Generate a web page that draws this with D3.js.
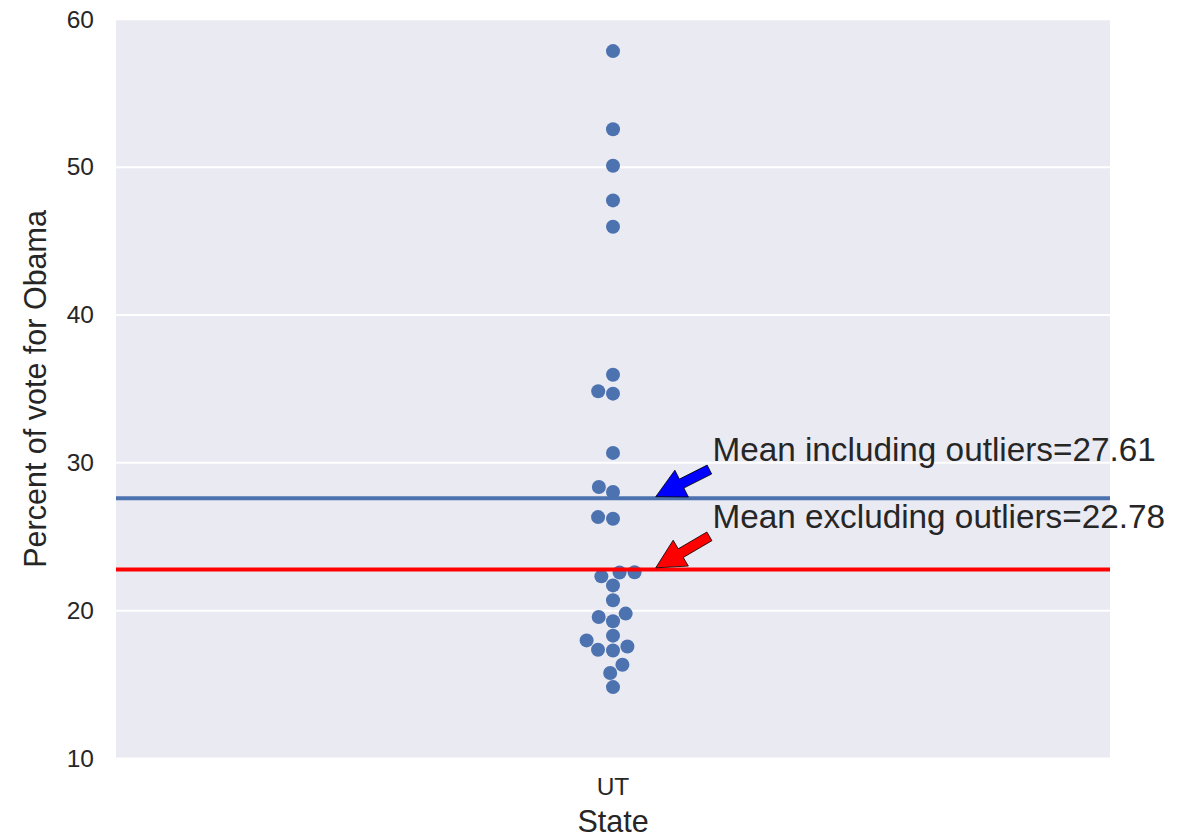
<!DOCTYPE html>
<html>
<head>
<meta charset="utf-8">
<script src="https://cdn.jsdelivr.net/npm/d3@7"></script>
<style>
  body { margin: 0; background: #ffffff; }
  svg { display: block; }
  text { font-family: "Liberation Sans", Arial, sans-serif; fill: #262626; }
</style>
</head>
<body>
<svg id="chart" width="1183" height="838"></svg>
<script>
// ---- data ----
const categories = ["UT"];
// Obama vote share (%) by county
const obamaShare = [
  57.85, 52.56, 50.09, 47.75, 45.97,
  35.96, 34.84, 34.68, 30.67, 28.36, 28.03, 26.33, 26.22,
  22.6, 22.58, 22.32, 21.71, 20.70, 19.80, 19.57, 19.28,
  18.31, 17.99, 17.58, 17.36, 17.31, 16.34, 15.78, 14.83
];
const yTicks = [10, 20, 30, 40, 50, 60];
const meanValues = [27.61, 22.78];
const meanLabels = ["Mean including outliers=27.61", "Mean excluding outliers=22.78"];
const meanLineColors = ["#4C72B0", "#FF0000"];
const arrowColors = ["#0000FF", "#FF0000"];
// annotation text anchors (data units: category offset, percent)
const labelAnchorX = [0.1, 0.1];
const labelAnchorY = [30.12, 25.62];
// annotated point on each mean line (category offset)
const arrowTargetX = [0.04, 0.04];

// ---- layout ----
const svg = d3.select("#chart");
const plot = { left: 116, right: 1110, top: 19.3, bottom: 758.5 };

const xBand = d3.scaleBand().domain(categories).range([plot.left, plot.right]);
const xLin = d3.scaleLinear().domain([-0.5, categories.length - 0.5]).range([plot.left, plot.right]);
const y = d3.scaleLinear().domain([10, 60]).range([plot.bottom, plot.top]);

// background
svg.append("rect")
  .attr("x", plot.left).attr("y", plot.top)
  .attr("width", plot.right - plot.left).attr("height", plot.bottom - plot.top)
  .attr("fill", "#EAEAF2");

// horizontal grid
svg.append("g").selectAll("line").data(yTicks).join("line")
  .attr("x1", plot.left).attr("x2", plot.right)
  .attr("y1", d => y(d)).attr("y2", d => y(d))
  .attr("stroke", "#ffffff").attr("stroke-width", 2);

// ---- swarm layout (seaborn-style beeswarm, pixel space) ----
function beeswarm(values, d) {
  const pts = values.map(v => ({ v, u: -y(v) })).sort((a, b) => a.u - b.u);
  const swarm = [];
  pts.forEach((p, i) => {
    if (i === 0) { swarm.push({ v: p.v, u: p.u, dx: 0 }); return; }
    const neighbors = [];
    for (let j = swarm.length - 1; j >= 0; j--) {
      if (p.u - swarm[j].u < d) neighbors.unshift(swarm[j]); else break;
    }
    const cands = [0];
    let leftFirst = true;
    neighbors.forEach(n => {
      const dy = p.u - n.u;
      const dx = Math.sqrt(Math.max(d * d - dy * dy, 0)) * 1.05;
      if (leftFirst) cands.push(n.dx - dx, n.dx + dx);
      else cands.push(n.dx + dx, n.dx - dx);
      leftFirst = !leftFirst;
    });
    const order = cands.map((c, k) => ({ c, k }))
      .sort((a, b) => (Math.abs(a.c) - Math.abs(b.c)) || (a.k - b.k));
    let chosen = order[0].c;
    if (neighbors.length) {
      for (const o of order) {
        if (neighbors.every(n => (n.dx - o.c) ** 2 + (n.u - p.u) ** 2 >= d * d)) { chosen = o.c; break; }
      }
    }
    swarm.push({ v: p.v, u: p.u, dx: chosen });
  });
  return swarm;
}

const cx0 = xBand(categories[0]) + xBand.bandwidth() / 2;
const swarm = beeswarm(obamaShare, 14.3);

svg.append("g").selectAll("circle").data(swarm).join("circle")
  .attr("cx", d => cx0 + d.dx)
  .attr("cy", d => y(d.v))
  .attr("r", 7)
  .attr("fill", "#4C72B0");

// mean lines
svg.append("g").selectAll("line").data(meanValues).join("line")
  .attr("x1", plot.left).attr("x2", plot.right)
  .attr("y1", d => y(d)).attr("y2", d => y(d))
  .attr("stroke", (d, i) => meanLineColors[i])
  .attr("stroke-width", 4);

// ---- axes ----
const yAxis = svg.append("g")
  .attr("transform", `translate(${plot.left},0)`)
  .call(d3.axisLeft(y).tickValues(yTicks).tickSize(0).tickPadding(22).tickFormat(d3.format("d")));
yAxis.select(".domain").remove();
yAxis.selectAll("text").style("font-size", "24.5px").attr("fill", "#262626")
  .style("font-family", '"Liberation Sans", Arial, sans-serif');

const xAxis = svg.append("g")
  .attr("transform", `translate(0,${plot.bottom})`)
  .call(d3.axisBottom(xBand).tickSize(0).tickPadding(19));
xAxis.select(".domain").remove();
xAxis.selectAll("text").style("font-size", "24.5px").attr("fill", "#262626")
  .style("font-family", '"Liberation Sans", Arial, sans-serif');

svg.append("text")
  .attr("x", cx0).attr("y", 832)
  .attr("text-anchor", "middle")
  .style("font-size", "30.5px")
  .text("State");

svg.append("text")
  .attr("transform", `translate(46,${(plot.top + plot.bottom) / 2}) rotate(-90)`)
  .attr("text-anchor", "middle")
  .style("font-size", "30.5px")
  .text("Percent of vote for Obama");

// ---- annotations with arrows ----
const annGroup = svg.append("g");
meanValues.forEach((m, i) => {
  const t = annGroup.append("text")
    .attr("x", xLin(labelAnchorX[i]))
    .attr("y", y(labelAnchorY[i]))
    .style("font-size", "33.3px")
    .text(meanLabels[i]);
  const bb = t.node().getBBox();
  const tx = xLin(arrowTargetX[i]), ty = y(m);
  // corner of the text box closest to the annotated point
  const xs = [bb.x, bb.x + bb.width / 2, bb.x + bb.width];
  const ys = [bb.y, bb.y + bb.height / 2, bb.y + bb.height];
  const sx = xs.reduce((a, b) => Math.abs(b - tx) < Math.abs(a - tx) ? b : a);
  const sy = ys.reduce((a, b) => Math.abs(b - ty) < Math.abs(a - ty) ? b : a);
  const len = Math.hypot(tx - sx, ty - sy);
  const ux = (tx - sx) / len, uy = (ty - sy) / len;
  const shrink = 0.05 * len;
  const S = [sx + ux * shrink, sy + uy * shrink];
  const E = [tx - ux * shrink, ty - uy * shrink];
  const nx = -uy, ny = ux;
  const tw = 10, hw = 30, hl = 29;
  const B = [E[0] - ux * hl, E[1] - uy * hl];
  const poly = [
    [S[0] + nx * tw / 2, S[1] + ny * tw / 2],
    [B[0] + nx * tw / 2, B[1] + ny * tw / 2],
    [B[0] + nx * hw / 2, B[1] + ny * hw / 2],
    E,
    [B[0] - nx * hw / 2, B[1] - ny * hw / 2],
    [B[0] - nx * tw / 2, B[1] - ny * tw / 2],
    [S[0] - nx * tw / 2, S[1] - ny * tw / 2]
  ];
  annGroup.insert("path", "text")
    .attr("d", d3.line()(poly) + "Z")
    .attr("fill", arrowColors[i])
    .attr("stroke", "#000000")
    .attr("stroke-width", 0.8)
    .attr("stroke-linejoin", "miter");
});
</script>
</body>
</html>
